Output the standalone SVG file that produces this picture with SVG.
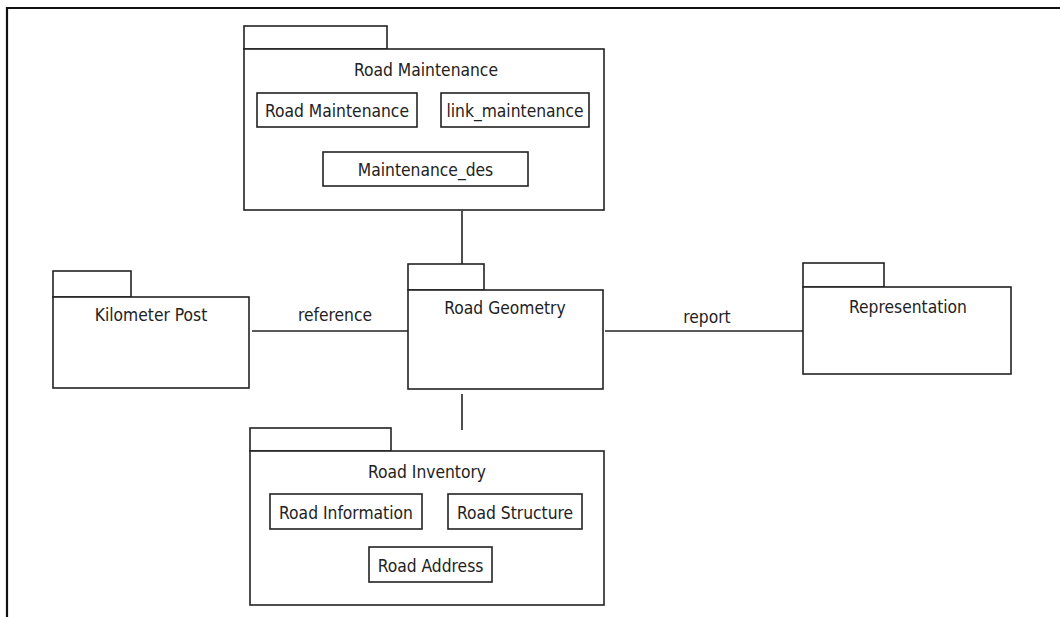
<svg xmlns="http://www.w3.org/2000/svg" width="1060" height="617" viewBox="0 0 1060 617">
<style>
.pk{fill:#fff;stroke:#222;stroke-width:1.6}
.bx{fill:#fff;stroke:#222;stroke-width:1.6}
.ln{stroke:#222;stroke-width:1.6;fill:none}
text{font-family:"DejaVu Sans Condensed","DejaVu Sans",sans-serif;font-size:17.3px;fill:#222;text-anchor:middle}
</style>
<rect x="0" y="0" width="1060" height="617" fill="#fff"/>
<path d="M7,617 V8 H1060" fill="none" stroke="#111" stroke-width="2.2"/>
<g id="connectors">
<line class="ln" x1="462" y1="211" x2="462" y2="264"/>
<line class="ln" x1="462" y1="394" x2="462" y2="430"/>
<line class="ln" x1="252" y1="331" x2="408" y2="331"/>
<line class="ln" x1="605" y1="331" x2="803" y2="331"/>
<text x="335" y="321">reference</text>
<text x="707" y="323">report</text>
</g>
<g id="road-maintenance">
<rect class="pk" x="244" y="26" width="143" height="23"/>
<rect class="pk" x="244" y="49" width="360" height="161"/>
<text x="426" y="76">Road Maintenance</text>
<rect class="bx" x="257" y="93" width="160" height="34"/>
<text x="337" y="117">Road Maintenance</text>
<rect class="bx" x="441" y="93" width="148" height="34"/>
<text x="515" y="117">link_maintenance</text>
<rect class="bx" x="323" y="152" width="205" height="34"/>
<text x="425.5" y="176">Maintenance_des</text>
</g>
<g id="kilometer-post">
<rect class="pk" x="53" y="271" width="78" height="26"/>
<rect class="pk" x="53" y="297" width="196" height="91"/>
<text x="151" y="321">Kilometer Post</text>
</g>
<g id="road-geometry">
<rect class="pk" x="408" y="264" width="76" height="26"/>
<rect class="pk" x="408" y="290" width="195" height="99"/>
<text x="505" y="314">Road Geometry</text>
</g>
<g id="representation">
<rect class="pk" x="803" y="263" width="81" height="24"/>
<rect class="pk" x="803" y="287" width="208" height="87"/>
<text x="908" y="313">Representation</text>
</g>
<g id="road-inventory">
<rect class="pk" x="250" y="428" width="141" height="23"/>
<rect class="pk" x="250" y="451" width="354" height="154"/>
<text x="427" y="478">Road Inventory</text>
<rect class="bx" x="270" y="494" width="152" height="35"/>
<text x="346" y="519">Road Information</text>
<rect class="bx" x="448" y="494" width="134" height="35"/>
<text x="515" y="519">Road Structure</text>
<rect class="bx" x="369" y="547" width="123" height="35"/>
<text x="430.5" y="572">Road Address</text>
</g>
</svg>
